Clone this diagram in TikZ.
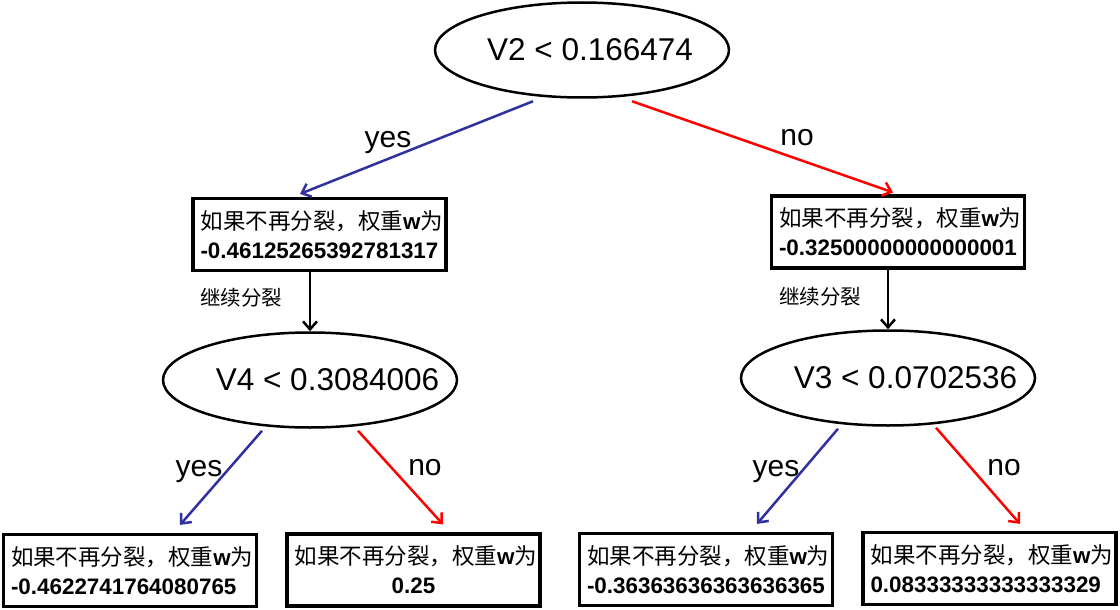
\documentclass[tikz,border=0pt]{standalone}
\usepackage{fontspec}
\setmainfont{Liberation Sans}
\newfontfamily\cjk{Noto Sans CJK SC}
\usepackage{tikz}
\usetikzlibrary{shapes.geometric,arrows.meta,calc}
\usepackage{xcolor}
\definecolor{yesblue}{RGB}{48,48,160}
\newcommand{\cnd}[2][0pt]{\makebox[0pt]{\hspace*{#1}#2}}
\newcommand{\weight}[1]{{\cjk\fontsize{22.5}{29}\selectfont 如果不再分裂，权重}\textbf{w}{\cjk\fontsize{22.5}{29}\selectfont 为}\\\textbf{#1}}

\begin{document}
\begin{tikzpicture}[x=1pt, y=-1pt, font=\fontsize{31.5}{36}\selectfont]
\tikzset{
  decision/.style={ellipse, draw=black, line width=2.5pt, minimum width=294pt, minimum height=95pt, inner sep=0pt},
  box/.style={rectangle, draw=black, line width=3.2pt, minimum width=253pt, minimum height=72pt, text width=238pt, inner xsep=7pt, align=left, font=\fontsize{22.4}{29}\selectfont},
  lbl/.style={font=\fontsize{30}{34}\selectfont},
  note/.style={font=\cjk\fontsize{20.5}{24}\selectfont},
  yesarr/.style={-{Straight Barb[length=8pt,width=14pt]}, line width=2.5pt, draw=yesblue},
  noarr/.style={-{Straight Barb[length=8pt,width=14pt]}, line width=2.5pt, draw=red},
  arr/.style={-{Straight Barb[length=8pt,width=14pt]}, line width=2.5pt, draw=black},
}
\useasboundingbox (0,0) rectangle (1120,610);
\node[decision] (a) at (582,50) {\cnd[16pt]{V2 < 0.166474}};
\node[box] (b) at (319.5,234.5) {\weight{-0.46125265392781317}};
\node[box] (c) at (898,232) {\weight{-0.32500000000000001}};
\node[decision] (d) at (310,380) {\cnd[35pt]{V4 < 0.3084006}};
\node[decision] (e) at (888,378) {\cnd[35pt]{V3 < 0.0702536}};
\node[box] (f) at (130,570.5) {\weight{-0.4622741764080765}};
\node[box, align=center] (g) at (413.5,570) {\weight{0.25}};
\node[box] (h) at (706,569.5) {\weight{-0.36363636363636365}};
\node[box] (i) at (989.5,568.5) {\weight{0.08333333333333329}};
% labels
\node[lbl] (y1) at (388,143) {yes};
\node[lbl] (n1) at (797,138) {no};
\node[note] (s1) at (241,298) {继续分裂};
\node[note] (s2) at (820,297) {继续分裂};
\node[lbl] (y2) at (199,472) {yes};
\node[lbl] (n2) at (425,468) {no};
\node[lbl] (y3) at (776,472) {yes};
\node[lbl] (n3) at (1004,468) {no};
\draw[yesarr] ($(a.south)+(-49,2.5)$) -- ($(b.north)+(-19.5,-3)$);
\draw[noarr] ($(a.south)+(50,2.5)$) -- ($(c.north)+(-5,-2)$);
\draw[arr] (b.south -| d.north) -- (d.north);
\draw[arr] (c.south -| e.north) -- (e.north);
\draw[yesarr] ($(d.south)+(-48,2)$) -- ($(f.north)+(50,-8)$);
\draw[noarr] ($(d.south)+(48,2)$) -- ($(g.north)+(29.5,-8)$);
\draw[yesarr] ($(e.south)+(-50,2)$) -- ($(h.north)+(51,-8)$);
\draw[noarr] ($(e.south)+(48,1)$) -- ($(i.north)+(30.5,-7)$);
\end{tikzpicture}
\end{document}
